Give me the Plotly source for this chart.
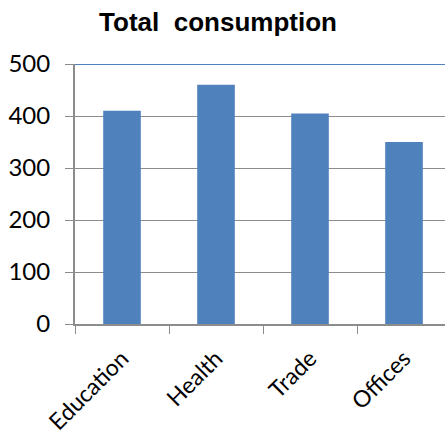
import plotly.graph_objects as go

categories = ["Education", "Health", "Trade", "Offices"]
values = [410, 460, 405, 350]
y_ticks = [0, 100, 200, 300, 400, 500]

fig = go.Figure(go.Bar(x=categories, y=values, marker=dict(color="#4F81BD", line=dict(width=0)), width=0.4))

fig.update_layout(
    width=445, height=434,
    margin=dict(l=75, r=0, t=64, b=110),
    paper_bgcolor="white", plot_bgcolor="white",
    title=dict(text="<b>Total  consumption</b>", x=218/445, xanchor="center", y=1 - 22/434, yanchor="middle",
               font=dict(family="Liberation Sans, Arial", size=26, color="black")),
    showlegend=False,
)
fig.update_yaxes(range=[0, 500], tickvals=y_ticks, showgrid=True, gridcolor="#8C8C8C", gridwidth=1,
                 showline=True, linecolor="#8C8C8C", linewidth=2, ticks="outside", ticklen=8, tickcolor="#8C8C8C",
                 automargin=False, ticklabelstandoff=10,
                 tickfont=dict(family="Lato, Carlito, sans-serif", size=24, color="black"), zeroline=False)
fig.update_xaxes(range=[-0.5, 3.436], showline=True, linecolor="#8C8C8C", linewidth=2, ticks="outside",
                 tickson="boundaries", ticklen=8, tickcolor="#8C8C8C", tickangle=-45,
                 ticklabelstandoff=10, automargin=False,
                 tickfont=dict(family="Lato, Carlito, sans-serif", size=23, color="black"))
fig.add_shape(type="line", xref="paper", yref="y", x0=0, x1=1, y0=500, y1=500,
              line=dict(color="#4F81BD", width=2))

fig.write_html("out.html", config={"displayModeBar": False},
               post_script="document.body.style.margin='0';document.body.style.overflow='hidden';")
